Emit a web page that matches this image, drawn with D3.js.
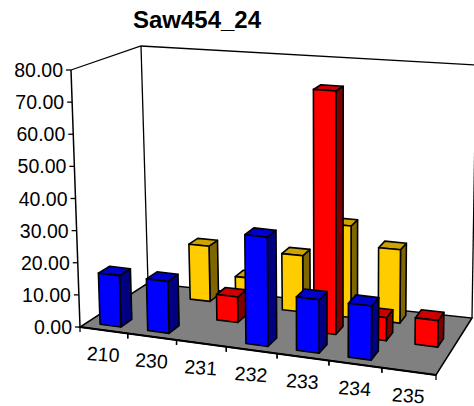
<!DOCTYPE html>
<html><head><meta charset="utf-8">
<script src="https://cdn.jsdelivr.net/npm/d3@7"></script>
<style>html,body{margin:0;padding:0;background:#fff}svg{display:block}text{font-family:"Liberation Sans",Arial,sans-serif;fill:#000}</style>
</head><body><div id="c"></div>
<script>
const title = "Saw454_24";
const categories = ["210","230","231","232","233","234","235"];
const seriesNames = ["Blue","Red","Yellow"];
const blue   = [16, 16, null, 33, 16, 16, null];
const red    = [null, null, 8, null, 75, 7, 8];
const yellow = [null, 18, 9, 18, 29, 23, null];
const yTicks = [0,10,20,30,40,50,60,70,80];
const palette = {
  Blue:{front:"#0000ff",side:"#000080",top:"#0000cc"},
  Red:{front:"#ff0000",side:"#800000",top:"#cc0000"},
  Yellow:{front:"#ffcc00",side:"#806600",top:"#cca300"}
};
const W=474,H=406;
const svg=d3.select("#c").append("svg").attr("width",W).attr("height",H);

// bilinear plane with mild perspective warps along each floor axis
const warpU=u=>u*(1-0.07)/(1-0.07*u);
const warpV=v=>v*(1+0.15)/(1+0.15*v);
const plane=q=>(u,v)=>{
  const a=warpU(u),b=warpV(v);
  return [0,1].map(k=>(q[0][k]*(1-a)+q[1][k]*a)*(1-b)+(q[3][k]*(1-a)+q[2][k]*a)*b);
};
const floorH=plane([[80,327],[436,375],[472,318],[148,283]]);
const ceilH =plane([[71,70],[441,98],[476,65],[141,46]]);
const yScale=d3.scaleLinear().domain([0,80]).range([0,1]);
const uScale=d3.scaleBand().domain(categories).range([0,1]).paddingInner(0.56).paddingOuter(0.28);
const uOuter=d3.scaleBand().domain(categories).range([0,1]);
const vScale=d3.scaleBand().domain(seriesNames).range([0,1]).paddingInner(0.54).paddingOuter(0.27);
function P(u,v,val){
  const a=floorH(u,v),b=ceilH(u,v),t=yScale(val);
  return [a[0]+(b[0]-a[0])*t,a[1]+(b[1]-a[1])*t];
}
const line=pts=>"M"+pts.map(p=>p[0].toFixed(1)+","+p[1].toFixed(1)).join("L")+"Z";
const open=pts=>"M"+pts.map(p=>p[0].toFixed(1)+","+p[1].toFixed(1)).join("L");

const wall=d=>svg.append("path").attr("d",d).attr("fill","none").attr("stroke","#000").attr("stroke-width",1.3);
wall(open([P(0,0,80),P(0,1,80),P(1,1,80)]));
wall(open([P(0,1,0),P(0,1,80)]));
wall(open([P(1,1,0),P(1,1,80)]));
svg.append("path").attr("d",line([P(0,0,0),P(1,0,0),P(1,1,0),P(0,1,0)])).attr("fill","#808080").attr("stroke","#000").attr("stroke-width",1.5);
svg.append("path").attr("d",open([P(0,0,0),P(0,0,80)])).attr("fill","none").attr("stroke","#000").attr("stroke-width",1.5);
yTicks.forEach(t=>{
  const p=P(0,0,t);
  svg.append("line").attr("x1",p[0]-5).attr("x2",p[0]).attr("y1",p[1]).attr("y2",p[1]).attr("stroke","#000").attr("stroke-width",1.3);
  svg.append("text").attr("x",p[0]-8).attr("y",p[1]+7).attr("text-anchor","end").attr("font-size",19.5).text(d3.format(".2f")(t));
});
svg.append("path").attr("d",open([P(0,0,0),P(1,0,0)])).attr("fill","none").attr("stroke","#000").attr("stroke-width",2);
categories.forEach((c,i)=>{
  const a=P(uOuter(c),0,0);
  svg.append("line").attr("x1",a[0]).attr("x2",a[0]).attr("y1",a[1]).attr("y2",a[1]+5).attr("stroke","#000").attr("stroke-width",1.3);
  const b=P(uOuter(c)+uOuter.bandwidth(),0,0);
  svg.append("line").attr("x1",b[0]).attr("x2",b[0]).attr("y1",b[1]).attr("y2",b[1]+5).attr("stroke","#000").attr("stroke-width",1.3);
  const m=P(uOuter(c)+uOuter.bandwidth()/2,0,0);
  svg.append("text").attr("transform",`translate(${m[0]-1},${m[1]+31}) rotate(4)`).attr("text-anchor","middle").attr("font-size",19.5).text(c);
});
const valuesBySeries={Blue:blue,Red:red,Yellow:yellow};
[...seriesNames].reverse().forEach(s=>{
  const col=palette[s];
  const v0=vScale(s),v1=v0+vScale.bandwidth();
  const g=svg.append("g").attr("stroke","#000").attr("stroke-width",1.6).attr("stroke-linejoin","round");
  categories.forEach((c,i)=>{
    const val=valuesBySeries[s][i];
    if(val==null)return;
    const u0=uScale(c),u1=u0+uScale.bandwidth();
    g.append("path").attr("fill",col.side).attr("d",line([P(u1,v0,0),P(u1,v1,0),P(u1,v1,val),P(u1,v0,val)]));
    g.append("path").attr("fill",col.top).attr("d",line([P(u0,v0,val),P(u1,v0,val),P(u1,v1,val),P(u0,v1,val)]));
    g.append("path").attr("fill",col.front).attr("d",line([P(u0,v0,0),P(u1,v0,0),P(u1,v0,val),P(u0,v0,val)]));
  });
});
svg.append("text").attr("x",197).attr("y",28).attr("text-anchor","middle").attr("font-size",24).attr("font-weight","bold").text(title);
</script></body></html>
